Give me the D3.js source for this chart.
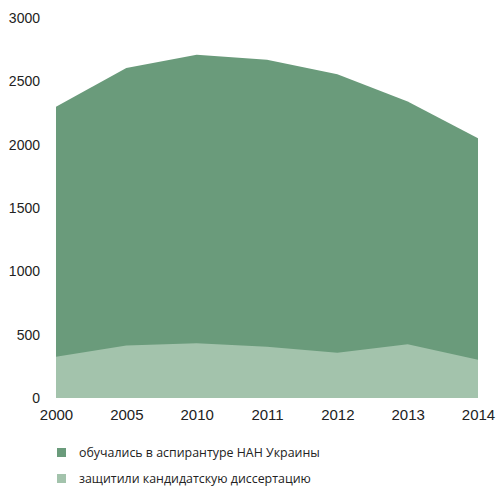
<!DOCTYPE html>
<html>
<head>
<meta charset="utf-8">
<script src="https://cdn.jsdelivr.net/npm/d3@7"></script>
<style>
  body { margin: 0; background: #fff; }
</style>
</head>
<body>
<div id="chart"></div>
<script>
const years = ["2000", "2005", "2010", "2011", "2012", "2013", "2014"];
const students = [2300, 2605, 2710, 2670, 2555, 2340, 2050];
const defended = [325, 415, 432, 405, 358, 425, 302];
const yTicks = [0, 500, 1000, 1500, 2000, 2500, 3000];
const seriesNames = ["обучались в аспирантуре НАН Украины", "защитили кандидатскую диссертацию"];
const seriesColors = ["#6a9b7b", "#a3c3ac"];

const width = 496, height = 487;
const margin = { top: 18, right: 18, bottom: 89, left: 56 };
const tickFont = "'Liberation Sans', Arial, sans-serif";

const svg = d3.select("#chart").append("svg")
    .attr("width", width)
    .attr("height", height);

const x = d3.scalePoint()
    .domain(years)
    .range([margin.left, width - margin.right]);

const y = d3.scaleLinear()
    .domain([0, 3000])
    .range([height - margin.bottom, margin.top]);

const area = d3.area()
    .x(d => x(d.year))
    .y0(y(0))
    .y1(d => y(d.value))
    .curve(d3.curveLinear);

// both areas start at zero, the smaller one sits on top
[students, defended].forEach((vals, i) => {
    svg.append("path")
        .datum(years.map((yr, j) => ({ year: yr, value: vals[j] })))
        .attr("d", area)
        .attr("fill", seriesColors[i]);
});

svg.append("g")
    .attr("transform", `translate(${margin.left - 16},0)`)
    .call(d3.axisLeft(y).tickValues(yTicks).tickFormat(d3.format("d")).tickSize(0).tickPadding(0))
    .call(g => g.select(".domain").remove())
    .selectAll("text")
        .attr("font-family", tickFont)
        .attr("font-size", "14px")
        .attr("fill", "#222");

svg.append("g")
    .attr("transform", `translate(0,${height - margin.bottom + 11})`)
    .call(d3.axisBottom(x).tickSize(0).tickPadding(0))
    .call(g => g.select(".domain").remove())
    .selectAll("text")
        .attr("font-family", tickFont)
        .attr("font-size", "15px")
        .attr("fill", "#222");

const legend = svg.append("g")
    .attr("transform", `translate(57,448)`);

legend.selectAll("rect")
    .data(seriesNames)
    .join("rect")
    .attr("x", 0)
    .attr("y", (d, i) => i * 26)
    .attr("width", 9)
    .attr("height", 9)
    .attr("fill", (d, i) => seriesColors[i]);

legend.selectAll("text")
    .data(seriesNames)
    .join("text")
    .attr("x", 22)
    .attr("y", (d, i) => i * 26 + 9)
    .text(d => d)
    .attr("font-family", "'Open Sans', sans-serif")
    .attr("font-size", "12.4px")
    .attr("fill", "#222");
</script>
</body>
</html>
